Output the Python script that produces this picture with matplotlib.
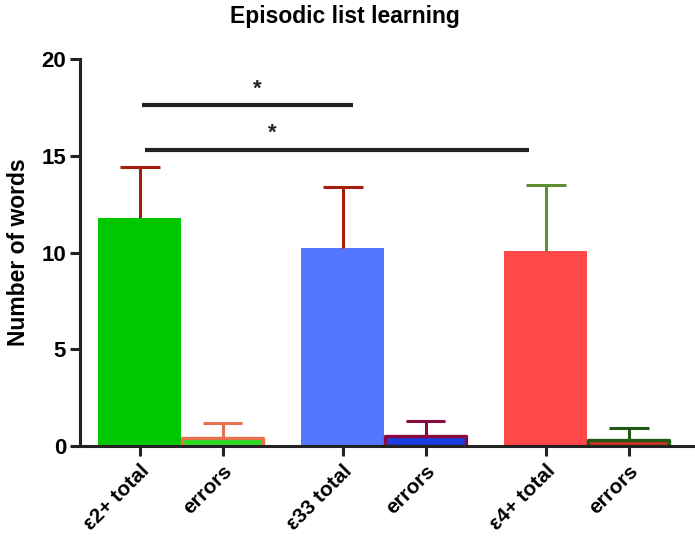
import matplotlib
matplotlib.use("Agg")
import matplotlib.pyplot as plt
import numpy as np

plt.rcParams["font.family"] = ["Liberation Sans", "DejaVu Sans"]
plt.rcParams["font.weight"] = "bold"

labels = ["ε2+ total", "errors", "ε33 total", "errors", "ε4+ total", "errors"]
positions = [0, 1, 2.45, 3.45, 4.9, 5.9]
means = [11.8, 0.4, 10.25, 0.5, 10.1, 0.3]
sems = [2.6, 0.8, 3.15, 0.8, 3.4, 0.65]

fill_colors = ["#00c800", "#22dd22", "#5577ff", "#1a3ee0", "#ff4848", "#d03020"]
edge_colors = [None, "#e8704c", None, "#8a0a40", None, "#1f5a12"]
err_colors = ["#a51e0e", "#e8704c", "#a51e0e", "#8a0a40", "#5e8f32", "#1f5a12"]

# significance lines: (start x, end x, height, star x)
sig_lines = [(0.03, 2.57, 17.62, 1.42), (0.06, 4.7, 15.3, 1.6)]

fig = plt.figure(figsize=(6.95, 5.39), dpi=100)
ax = fig.add_axes([0.115, 0.1725, 0.885, 0.718])

cap_half = 0.24
for i in range(len(positions)):
    if edge_colors[i] is None:
        ax.bar(positions[i], means[i], width=1.0, color=fill_colors[i], linewidth=0)
    else:
        ax.bar(positions[i], means[i], width=0.97, color=fill_colors[i],
               edgecolor=edge_colors[i], linewidth=2.4, joinstyle="round")
    top = means[i] + sems[i]
    ax.vlines(positions[i], means[i], top, color=err_colors[i], lw=2.2, zorder=3)
    ax.hlines(top, positions[i] - cap_half, positions[i] + cap_half,
              color=err_colors[i], lw=2.2, zorder=3)

for x0, x1, h, xs in sig_lines:
    ax.plot([x0, x1], [h, h], color="#222222", lw=3, solid_capstyle="butt")
    ax.text(xs, h + 0.3, "*", ha="center", va="bottom", fontsize=16,
            fontweight="bold", color="#222222")

ax.set_xlim(-0.72, 6.7)
ax.set_ylim(0, 20)
ax.set_yticks([0, 5, 10, 15, 20])
ax.set_xticks(positions)
ax.set_xticklabels(labels, rotation=45, ha="right", rotation_mode="anchor",
                   fontsize=15, fontweight="bold")
ax.tick_params(axis="y", labelsize=16, width=2.2, length=7, color="#222222", pad=3)
ax.tick_params(axis="x", width=2.2, length=7, color="#222222", pad=4)
for lab in ax.get_yticklabels():
    lab.set_fontweight("bold")

for side in ["top", "right"]:
    ax.spines[side].set_visible(False)
for side in ["left", "bottom"]:
    ax.spines[side].set_linewidth(2.2)
    ax.spines[side].set_color("#222222")

ax.set_ylabel("Number of words", fontsize=16.5, fontweight="bold", labelpad=8)
fig.text(0.497, 0.97, "Episodic list learning", ha="center", va="center",
         fontsize=16.5, fontweight="bold")

fig.savefig("out.png", dpi=100)
